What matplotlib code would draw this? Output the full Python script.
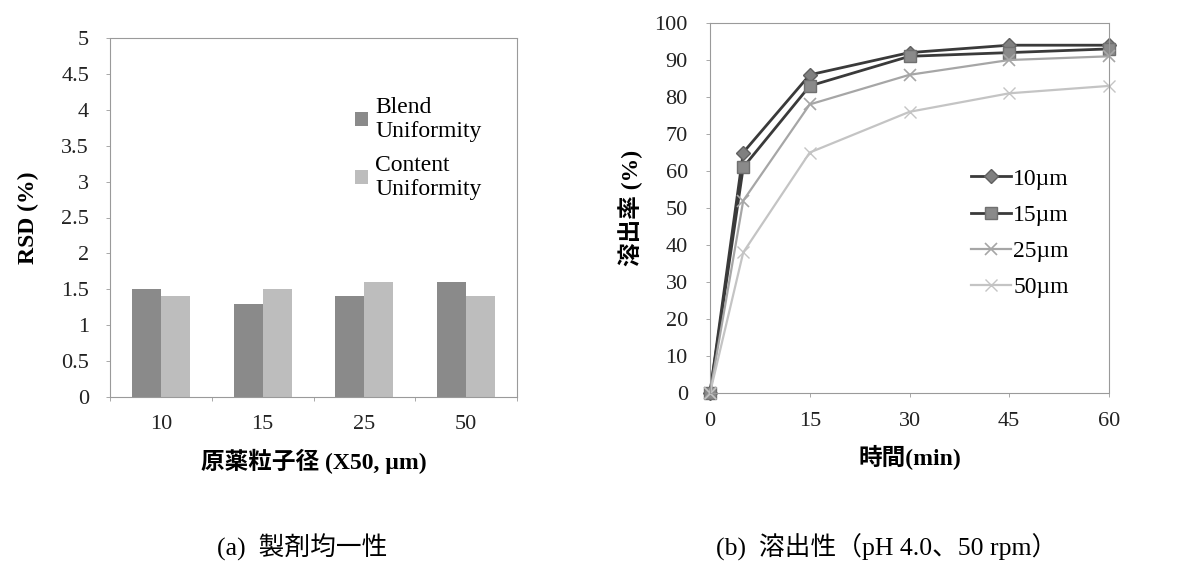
import matplotlib
matplotlib.use("Agg")
import matplotlib.pyplot as plt
import numpy as np

plt.rcParams['font.family'] = ['Liberation Serif', 'Noto Sans CJK JP']

# (a) blend / content uniformity
sizes = ["10", "15", "25", "50"]
blend_rsd = [1.5, 1.3, 1.4, 1.6]
content_rsd = [1.4, 1.5, 1.6, 1.4]

# (b) dissolution profiles
time_min = [0, 5, 15, 30, 45, 60]
diss_10 = [0, 65, 86, 92, 94, 94]
diss_15 = [0, 61, 83, 91, 92, 93]
diss_25 = [0, 52, 78, 86, 90, 91]
diss_50 = [0, 38, 65, 76, 81, 83]

FS = 16
LFS = 17
fig = plt.figure(figsize=(11.79, 5.74), dpi=100)
W, H = 1179, 574


def frame(ax):
    for sp in ax.spines.values():
        sp.set_color("#9a9a9a")
        sp.set_linestyle((0, (1, 1)))
        sp.set_linewidth(0.8)
    ax.tick_params(axis="both", colors="#9a9a9a", labelcolor="#222222",
                   length=3, width=0.6, labelsize=FS)


# ---- left panel: bars
ax1 = fig.add_axes([110 / W, 1 - 397 / H, 407 / W, 359 / H])
x = np.arange(len(sizes))
bw = 0.285
ax1.bar(x - bw / 2, blend_rsd, bw, color="#8a8a8a", label="Blend\nUniformity")
ax1.bar(x + bw / 2, content_rsd, bw, color="#bdbdbd", label="Content\nUniformity")
ax1.set_xlim(-0.5, 3.5)
ax1.set_ylim(0, 5)
ax1.set_yticks(np.arange(0, 5.01, 0.5))
ax1.set_yticklabels([f"{v:g}" for v in np.arange(0, 5.01, 0.5)])
ax1.set_xticks(x)
ax1.set_xticklabels(sizes)
ax1.set_xticks(np.arange(-0.5, 3.6, 1), minor=True)
frame(ax1)
ax1.tick_params(axis="x", which="major", length=0, pad=13)
ax1.tick_params(axis="x", which="minor", length=3, colors="#9a9a9a")
ax1.tick_params(axis="y", pad=12)
ax1.set_ylabel("RSD (%)", fontsize=LFS, fontweight="bold", labelpad=16)
ax1.set_xlabel("原薬粒子径 (X50, µm)", fontsize=LFS, fontweight="bold", labelpad=11)
ax1.legend(loc="upper left", bbox_to_anchor=(0.55, 0.895), frameon=False,
           fontsize=FS + 1, handlelength=0.55, handleheight=0.55, handletextpad=0.3,
           labelspacing=0.55)
fig.text(302 / W, 1 - 547 / H, "(a)  製剤均一性", ha="center", va="center", fontsize=18.5)

# ---- right panel: dissolution
ax2 = fig.add_axes([710 / W, 1 - 393 / H, 399 / W, 370 / H])
ax2.plot(time_min, diss_10, color="#3a3a3a", lw=2, marker="D", ms=7,
         mfc="#808080", mec="#606060", label="10µm")
ax2.plot(time_min, diss_15, color="#3a3a3a", lw=2, marker="s", ms=8,
         mfc="#8a8a8a", mec="#707070", label="15µm")
ax2.plot(time_min, diss_25, color="#a6a6a6", lw=1.6, marker="x", ms=9,
         mew=1.2, label="25µm")
ax2.plot(time_min, diss_50, color="#c4c4c4", lw=1.6, marker="x", ms=9,
         mew=1.0, label="50µm")
ax2.set_xlim(0, 60)
ax2.set_ylim(0, 100)
ax2.set_xticks([0, 15, 30, 45, 60])
ax2.set_yticks(range(0, 101, 10))
frame(ax2)
ax2.tick_params(axis="x", pad=11)
ax2.tick_params(axis="y", pad=13)
for ln in ax2.lines:
    ln.set_clip_on(False)
ax2.set_ylabel("溶出率 (%)", fontsize=LFS, fontweight="bold", labelpad=8)
ax2.set_xlabel("時間(min)", fontsize=LFS, fontweight="bold", labelpad=10)
ax2.legend(loc="upper left", bbox_to_anchor=(0.6, 0.665), frameon=False,
           fontsize=FS + 1, handlelength=1.7, handletextpad=0.1, labelspacing=0.62)
fig.text(887 / W, 1 - 547 / H, "(b)  溶出性（pH 4.0、50 rpm）", ha="center",
         va="center", fontsize=18.5)

fig.savefig("out.png", dpi=100)
